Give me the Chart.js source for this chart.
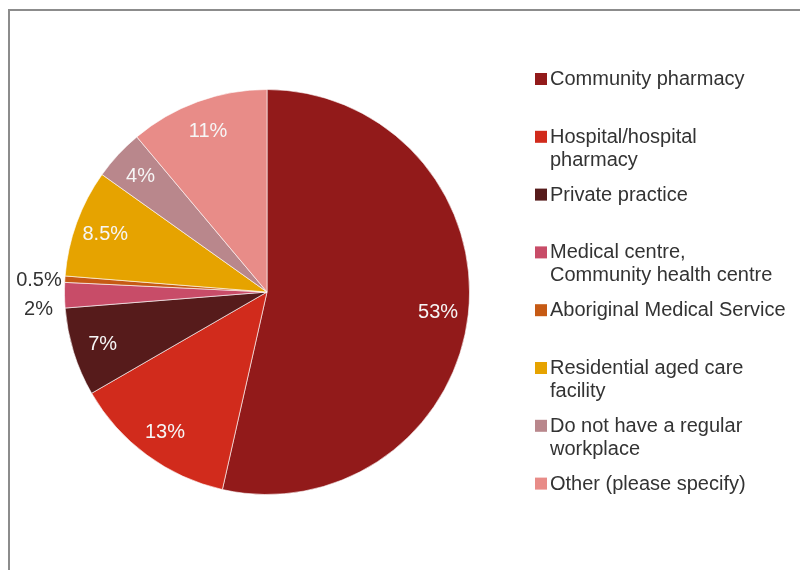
<!DOCTYPE html>
<html>
<head>
<meta charset="utf-8">
<title>Main workplace</title>
<script src="https://cdn.jsdelivr.net/npm/chart.js@4.4.1/dist/chart.umd.min.js"></script>
<style>
  html, body { margin: 0; padding: 0; background: #fff; }
  #wrap { position: relative; width: 800px; height: 570px; overflow: hidden; }
  #workplace-chart { position: absolute; left: 0; top: 0; }
  #frame {
    position: absolute; left: 8px; top: 9px; width: 900px; height: 700px;
    border-left: 2px solid #8c8c8c; border-top: 2px solid #8c8c8c;
    pointer-events: none;
  }
</style>
</head>
<body>
<div id="wrap">
  <canvas id="workplace-chart" width="800" height="570"></canvas>
  <div id="frame"></div>
</div>
<script>
// workplace categories, one array of lines per legend entry
const categories = [
  ["Community pharmacy"],
  ["Hospital/hospital", "pharmacy"],
  ["Private practice"],
  ["Medical centre,", "Community health centre"],
  ["Aboriginal Medical Service"],
  ["Residential aged care", "facility"],
  ["Do not have a regular", "workplace"],
  ["Other (please specify)"],
];
// share of respondents, in percent
const shares = [53, 13, 7, 2, 0.5, 8.5, 4, 11];
const sliceColors = [
  "#921a1a",
  "#d12b1c",
  "#561b1b",
  "#c84c68",
  "#c65a14",
  "#e6a300",
  "#b9878c",
  "#e88c88",
];

const chartCanvas = document.getElementById("workplace-chart");

// percent labels: inside the slice, or just outside for the thin ones
const sliceLabels = {
  id: "sliceLabels",
  afterDatasetsDraw(chart, args, opts) {
    const { ctx } = chart;
    const arcs = chart.getDatasetMeta(0).data;
    const outside = [];
    ctx.save();
    ctx.font = opts.font;
    ctx.textAlign = "center";
    // alphabetic baseline, shifted by half the cap height so digits sit centred
    ctx.textBaseline = "alphabetic";
    arcs.forEach((arc, i) => {
      const { x, y, startAngle, endAngle, outerRadius } = arc.getProps(
        ["x", "y", "startAngle", "endAngle", "outerRadius"],
        true
      );
      const mid = (startAngle + endAngle) / 2;
      const text = shares[i] + "%";
      if (shares[i] < opts.minInside) {
        outside.push({
          text,
          x: x + Math.cos(mid) * (outerRadius + opts.outsideGap),
          y: y + Math.sin(mid) * outerRadius,
        });
      } else {
        const r = outerRadius * opts.insideRatio;
        ctx.fillStyle = opts.insideColor;
        ctx.fillText(text, x + Math.cos(mid) * r, y + Math.sin(mid) * r + opts.halfCap);
      }
    });
    // push the small labels apart so they don't sit on each other
    outside.sort((a, b) => a.y - b.y);
    for (let k = 1; k < outside.length; k++) {
      if (outside[k].y - outside[k - 1].y < opts.minGap) {
        outside[k].y = outside[k - 1].y + opts.minGap;
      }
    }
    ctx.fillStyle = opts.outsideColor;
    outside.forEach((label) => ctx.fillText(label.text, label.x, label.y + opts.halfCap));
    ctx.restore();
  },
};

// legend on the right, one fixed slot per entry
const sideLegend = {
  id: "sideLegend",
  afterDraw(chart, args, opts) {
    const { ctx } = chart;
    ctx.save();
    ctx.font = opts.font;
    ctx.textAlign = "left";
    ctx.textBaseline = "alphabetic";
    categories.forEach((lines, i) => {
      const baseY = opts.top + i * opts.slot;
      ctx.fillStyle = sliceColors[i];
      ctx.fillRect(opts.left, baseY - opts.box, opts.box, opts.box);
      ctx.fillStyle = opts.color;
      lines.forEach((line, j) => {
        ctx.fillText(line, opts.left + opts.box + opts.gap, baseY + j * opts.lineHeight);
      });
    });
    ctx.restore();
  },
};

new Chart(chartCanvas, {
  type: "pie",
  data: {
    labels: categories,
    datasets: [
      {
        data: shares,
        backgroundColor: sliceColors,
        borderColor: "rgba(255, 255, 255, 0.6)",
        borderWidth: 1,
      },
    ],
  },
  options: {
    responsive: false,
    animation: false,
    layout: {
      padding: { left: 64, top: 89, right: 330, bottom: 75 },
    },
    plugins: {
      legend: { display: false },
      tooltip: { enabled: false },
      sliceLabels: {
        font: '20px "Liberation Sans", Arial, sans-serif',
        insideColor: "#f6f6f6",
        outsideColor: "#333333",
        insideRatio: 0.85,
        minInside: 3,
        outsideGap: 26,
        minGap: 29,
        halfCap: 7,
      },
      sideLegend: {
        font: '20px "Liberation Sans", Arial, sans-serif',
        color: "#333333",
        left: 535,
        top: 85,
        slot: 57.8,
        box: 12,
        gap: 3,
        lineHeight: 23,
      },
    },
  },
  plugins: [sliceLabels, sideLegend],
});
</script>
</body>
</html>
